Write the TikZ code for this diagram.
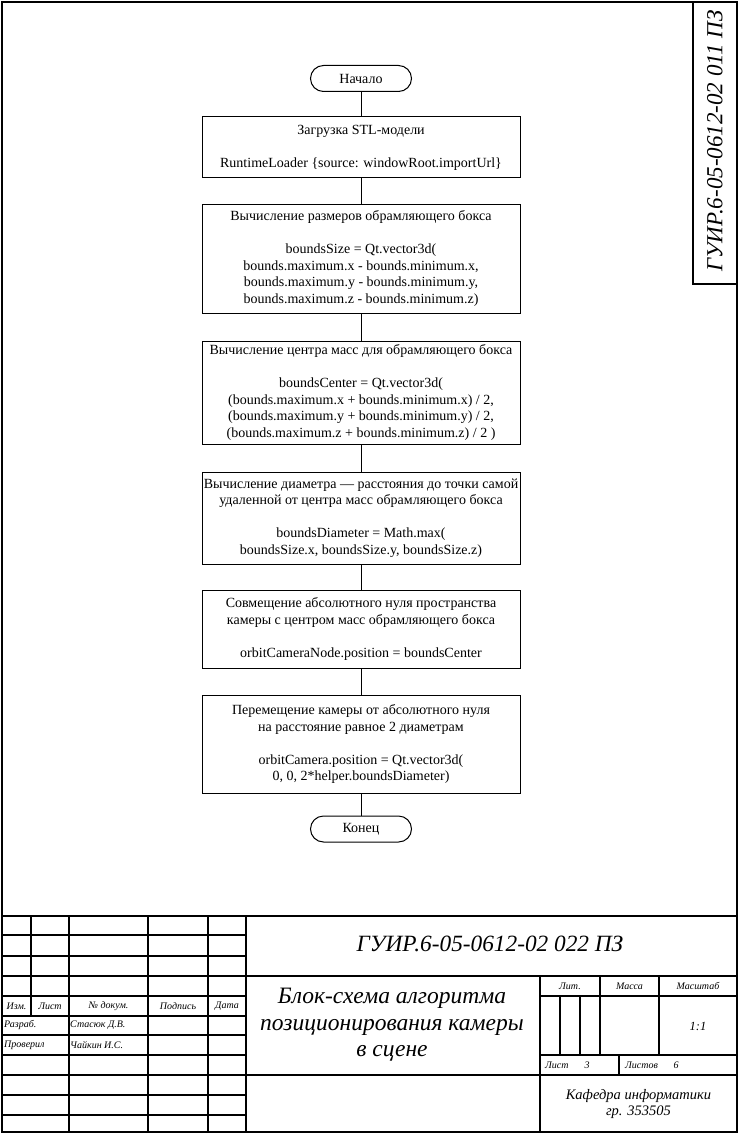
\documentclass[tikz,border=0pt]{standalone}
\usepackage{fontspec}
\setmainfont{Liberation Serif}
\usetikzlibrary{shapes.misc}
\begin{document}
\begin{tikzpicture}[x=1pt,y=-1pt,
  sheetframe/.style={line width=1.8pt},
  gridline/.style={line width=1.6pt},
  block/.style={draw, line width=1pt, minimum width=318pt, inner sep=0pt,
    align=center, font=\fontsize{14}{16.5}\selectfont},
  term/.style={draw, line width=1pt, rounded rectangle, minimum width=101pt,
    minimum height=26pt, inner sep=0pt, font=\fontsize{14}{16.5}\selectfont},
  link/.style={line width=1pt},
  smalltext/.style={font=\fontsize{10}{11}\selectfont\itshape, inner sep=0pt},
  signame/.style={font=\fontsize{10}{11}\selectfont\itshape, inner sep=0pt, anchor=west},
]
\useasboundingbox (0,0) rectangle (739,1134);

% sheet frame and side stamp
\draw[sheetframe] (2,2) rectangle (737,1132);
\draw[sheetframe] (693,2) -- (693,284) -- (737,284);
\node[rotate=90, font=\fontsize{23}{25}\selectfont\itshape, inner sep=0pt] (stamp) at (715,141) {ГУИР.6-05-0612-02 011 ПЗ};

% flowchart
\node[term] (start) at (361,78.5) {Начало};
\node[block, minimum height=61pt] (b1) at (361,147.5) {Загрузка STL-модели\\[16.5pt]
  RuntimeLoader \{source: windowRoot.importUrl\}};
\node[block, minimum height=109pt] (b2) at (361,258.5) {Вычисление размеров обрамляющего бокса\\[16.5pt]
  boundsSize = Qt.vector3d(\\
  bounds.maximum.x - bounds.minimum.x,\\
  bounds.maximum.y - bounds.minimum.y,\\
  bounds.maximum.z - bounds.minimum.z)};
\node[block, minimum height=103pt] (b3) at (361,392.5) {Вычисление центра масс для обрамляющего бокса\\[16.5pt]
  boundsCenter = Qt.vector3d(\\
  (bounds.maximum.x + bounds.minimum.x) / 2,\\
  (bounds.maximum.y + bounds.minimum.y) / 2,\\
  (bounds.maximum.z + bounds.minimum.z) / 2 )};
\node[block, minimum height=92pt] (b4) at (361,518) {Вычисление диаметра — расстояния до точки самой\\
  удаленной от центра масс обрамляющего бокса\\[16.5pt]
  boundsDiameter = Math.max(\\
  boundsSize.x, boundsSize.y, boundsSize.z)};
\node[block, minimum height=78pt] (b5) at (361,629) {Совмещение абсолютного нуля пространства\\
  камеры с центром масс обрамляющего бокса\\[16.5pt]
  orbitCameraNode.position = boundsCenter};
\node[block, minimum height=98pt] (b6) at (361,744) {Перемещение камеры от абсолютного нуля\\
  на расстояние равное 2 диаметрам\\[16.5pt]
  orbitCamera.position = Qt.vector3d(\\
  0, 0, 2*helper.boundsDiameter)};
\node[term] (stop) at (361,829) {Конец};

\draw[link] (start) -- (b1);
\draw[link] (b1) -- (b2);
\draw[link] (b2) -- (b3);
\draw[link] (b3) -- (b4);
\draw[link] (b4) -- (b5);
\draw[link] (b5) -- (b6);
\draw[link] (b6) -- (stop);

% title block grid
\draw[gridline] (2,916) -- (737,916);
\foreach \y in {935,956,976,996,1016,1035,1055,1075,1095,1115}
  \draw[gridline] (2,\y) -- (246,\y);
\draw[gridline] (31,916) -- (31,1016);
\foreach \x in {69,148,208,246}
  \draw[gridline] (\x,916) -- (\x,1132);
\draw[gridline] (246,976) -- (737,976);
\draw[gridline] (246,1075) -- (737,1075);
\draw[gridline] (540,976) -- (540,1132);
\draw[gridline] (540,996) -- (737,996);
\draw[gridline] (540,1055) -- (737,1055);
\foreach \x in {560,580}
  \draw[gridline] (\x,996) -- (\x,1055);
\foreach \x in {600,659}
  \draw[gridline] (\x,976) -- (\x,1055);
\draw[gridline] (619,1055) -- (619,1075);

% title block texts
\node[smalltext] (izm) at (16.5,1006) {Изм.};
\node[smalltext] (list) at (50,1006) {Лист};
\node[smalltext] (doc) at (108.5,1006) {№ докум.};
\node[smalltext] (sign) at (178,1006) {Подпись};
\node[smalltext] (date) at (227,1006) {Дата};
\node[signame] (dev) at (4,1025) {Разраб.};
\node[signame] (devn) at (70,1025) {Стасюк Д.В.};
\node[signame] (chk) at (4,1045) {Проверил};
\node[signame] (chkn) at (70,1045) {Чайкин И.С.};

\node[font=\fontsize{23.3}{25}\selectfont\itshape, inner sep=0pt] (code) at (490,944) {ГУИР.6-05-0612-02 022 ПЗ};
\node[font=\fontsize{23.5}{26.5}\selectfont\itshape, align=center, inner sep=0pt] (title) at (392,1025)
  {Блок-схема алгоритма\\позиционирования камеры\\в сцене};

\node[smalltext] (lit) at (570,986) {Лит.};
\node[smalltext] (mass) at (629.5,986) {Масса};
\node[smalltext] (scale) at (698,986) {Масштаб};
\node[font=\fontsize{12.5}{14}\selectfont\itshape, inner sep=0pt] (ratio) at (698,1026) {1:1};
\node[smalltext, anchor=west] (sheet) at (545,1065) {Лист};
\node[smalltext] (sheetn) at (587,1065) {3};
\node[smalltext, anchor=west] (sheets) at (625,1065) {Листов};
\node[smalltext] (sheetsn) at (676,1065) {6};
\node[font=\fontsize{14.5}{15.5}\selectfont\itshape, align=center, inner sep=0pt] (dept) at (638.5,1104)
  {Кафедра информатики\\гр. 353505};
\end{tikzpicture}
\end{document}
